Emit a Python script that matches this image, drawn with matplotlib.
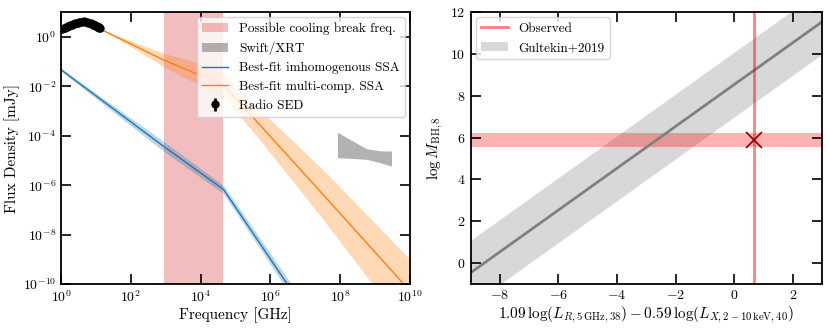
import numpy as np
import matplotlib
matplotlib.use("Agg")
import matplotlib.pyplot as plt
from matplotlib.patches import Patch
from matplotlib.lines import Line2D

plt.rcParams['font.family'] = ['cmr10', 'DejaVu Serif']
plt.rcParams['mathtext.fontset'] = 'cm'
plt.rcParams['axes.formatter.use_mathtext'] = True
plt.rcParams['axes.unicode_minus'] = False

# ---------------- Left panel data ----------------
# Radio SED (GHz, mJy)
radio_freq = [1.0, 1.1, 1.2, 1.3, 1.4, 1.5, 1.6, 1.7, 1.8, 1.9, 2.0, 2.2, 2.4, 2.6, 2.8, 3.0, 3.3, 3.6, 4.0, 4.5, 5.0, 5.5, 6.0, 6.5, 7.0, 7.5, 8.0, 8.5, 9.0, 9.5, 10.0, 10.5, 11.0, 11.5, 12.0, 12.5, 13.0]
radio_flux = [2.0, 2.1, 2.2, 2.3, 2.4, 2.55, 2.7, 2.8, 2.9, 3.0, 3.1, 3.3, 3.45, 3.6, 3.7, 3.8, 3.9, 4.0, 4.1, 4.2, 4.1, 4.0, 3.8, 3.65, 3.5, 3.35, 3.2, 3.1, 3.0, 2.9, 2.8, 2.7, 2.6, 2.5, 2.4, 2.35, 2.3]
radio_err = [0.3] * len(radio_freq)

# Best-fit inhomogeneous SSA (blue)
blue_freq = [1.0, 8.5e2, 4.5e4, 4.0e6]
blue_flux = [4.7e-2, 3.8e-5, 6.8e-7, 5.6e-11]
blue_lo = [4.1e-2, 2.4e-5, 4.6e-7, 3.2e-11]
blue_hi = [5.4e-2, 6.0e-5, 1.0e-6, 1.0e-10]

# Best-fit multi-component SSA (orange)
orange_freq = [1.0, 4.0, 15.0, 1.0e2, 8.5e2, 6.9e3, 4.5e4, 4.5e5, 3.2e7, 1.0e10]
orange_flux = [1.5, 3.6, 1.9, 0.52, 0.117, 3.4e-2, 1.15e-2, 3.2e-4, 4.2e-7, 5.2e-11]
orange_lo = [1.5, 3.6, 1.9, 0.40, 0.063, 1.35e-2, 3.8e-3, 8.0e-5, 4.2e-8, 1.0e-12]
orange_hi = [1.5, 3.6, 1.9, 0.69, 0.22, 9.6e-2, 3.6e-2, 1.3e-3, 4.2e-6, 1.0e-9]

# Swift/XRT bowtie
xrt_freq = [8.3e7, 1.9e8, 5.8e8, 1.4e9, 2.95e9]
xrt_hi = [1.38e-4, 7.1e-5, 2.95e-5, 2.45e-5, 2.4e-5]
xrt_lo = [1.29e-5, 1.23e-5, 1.1e-5, 8.1e-6, 5.9e-6]

# Cooling break range (GHz)
cool_lo, cool_hi = 9.0e2, 4.3e4

# ---------------- Right panel data ----------------
gult_x = [-9.0, 3.0]
gult_y = [-0.46, 11.54]
gult_scatter = 1.55
obs_x = 0.66
obs_m = 5.88
obs_m_lo, obs_m_hi = 5.53, 6.23

fig = plt.figure(figsize=(8.3, 3.28), dpi=100)
ax1 = fig.add_axes([0.0735, 0.134, 0.4205, 0.829])
ax2 = fig.add_axes([0.567, 0.134, 0.4235, 0.829])

# Left panel
ax1.axvspan(cool_lo, cool_hi, color='tab:red', alpha=0.3, lw=0, label='Possible cooling break freq.')
ax1.fill_between(xrt_freq, xrt_lo, xrt_hi, color='gray', alpha=0.6, lw=0, label='Swift/XRT')
ax1.fill_between(blue_freq, blue_lo, blue_hi, color='C0', alpha=0.3, lw=0)
ax1.plot(blue_freq, blue_flux, color='C0', lw=1, label='Best-fit imhomogenous SSA')
ax1.fill_between(orange_freq, orange_lo, orange_hi, color='C1', alpha=0.3, lw=0)
ax1.plot(orange_freq, orange_flux, color='C1', lw=1, label='Best-fit multi-comp. SSA')
ax1.errorbar(radio_freq, radio_flux, yerr=radio_err, fmt='o', color='k', ms=5,
             elinewidth=2, label='Radio SED', zorder=5)

ax1.set_xscale('log')
ax1.set_yscale('log')
ax1.set_xlim(1, 1e10)
ax1.set_ylim(1e-10, 10)
ax1.set_xticks([1e0, 1e2, 1e4, 1e6, 1e8, 1e10])
ax1.set_yticks([1e-10, 1e-8, 1e-6, 1e-4, 1e-2, 1e0])
ax1.xaxis.set_minor_locator(matplotlib.ticker.NullLocator())
ax1.yaxis.set_minor_locator(matplotlib.ticker.NullLocator())
ax1.set_xlabel('Frequency [GHz]', fontsize=11, labelpad=2)
ax1.set_ylabel('Flux Density [mJy]', fontsize=11, labelpad=2)
ax1.legend(loc='upper right', fontsize=9.5, framealpha=0.8, borderaxespad=0.4)

# Right panel
ax2.fill_between(gult_x, np.array(gult_y) - gult_scatter, np.array(gult_y) + gult_scatter,
                 color='gray', alpha=0.3, lw=0)
ax2.plot(gult_x, gult_y, color='gray', lw=2)
ax2.axhspan(obs_m_lo, obs_m_hi, color='red', alpha=0.3, lw=0)
ax2.axvline(obs_x, color='red', alpha=0.5, lw=2)
ax2.plot([obs_x], [obs_m], 'x', color='darkred', ms=12, mew=1.2)
ax2.set_xlim(-9, 3)
ax2.set_ylim(-1, 12)
ax2.set_xticks([-8, -6, -4, -2, 0, 2])
ax2.set_yticks([0, 2, 4, 6, 8, 10, 12])
ax2.set_xlabel(r'$1.09\,\log(L_{R,5\,{\rm GHz},38}) - 0.59\,\log(L_{X,2-10\,{\rm keV},40})$', fontsize=11, labelpad=2)
ax2.set_ylabel(r'$\log M_{\rm BH,8}$', fontsize=11, labelpad=4)
handles = [Line2D([], [], color='red', alpha=0.5, lw=2),
           Patch(facecolor='gray', alpha=0.3, lw=0)]
ax2.legend(handles, ['Observed', 'Gultekin+2019'], loc='upper left', fontsize=9.5,
           framealpha=0.8, borderaxespad=0.4)

for ax in (ax1, ax2):
    ax.tick_params(which='both', direction='in', top=True, right=True,
                   length=7, width=1.2, labelsize=10)
    for s in ax.spines.values():
        s.set_linewidth(1.3)

fig.savefig('out.png', dpi=100)
